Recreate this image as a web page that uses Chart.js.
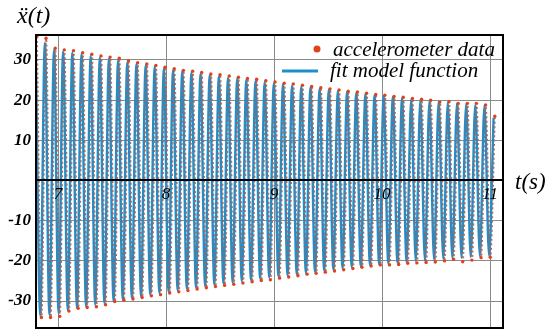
<!DOCTYPE html>
<html>
<head>
<meta charset="utf-8">
<script src="https://cdn.jsdelivr.net/npm/chart.js@4/dist/chart.umd.min.js"></script>
<style>
  html, body { margin: 0; padding: 0; background: #fff; }
</style>
</head>
<body>
<canvas id="chart" width="550" height="336"></canvas>
<script>
// times (s) of the turning points of the fit, peak / trough alternating
var fitT = [
  6.793, 6.835, 6.878, 6.920, 6.963, 7.005, 7.047, 7.090, 7.132, 7.175,
  7.217, 7.259, 7.302, 7.344, 7.387, 7.429, 7.471, 7.514, 7.556, 7.599,
  7.641, 7.683, 7.726, 7.768, 7.811, 7.853, 7.895, 7.938, 7.980, 8.023,
  8.065, 8.107, 8.150, 8.192, 8.235, 8.277, 8.319, 8.362, 8.404, 8.447,
  8.489, 8.531, 8.574, 8.616, 8.659, 8.701, 8.743, 8.786, 8.828, 8.871,
  8.913, 8.955, 8.998, 9.040, 9.083, 9.125, 9.167, 9.210, 9.252, 9.295,
  9.337, 9.379, 9.422, 9.464, 9.507, 9.549, 9.591, 9.634, 9.676, 9.719,
  9.761, 9.803, 9.846, 9.888, 9.931, 9.973, 10.015, 10.058, 10.100, 10.143,
  10.185, 10.227, 10.270, 10.312, 10.355, 10.397, 10.439, 10.482, 10.524, 10.567,
  10.609, 10.651, 10.694, 10.736, 10.779, 10.821, 10.863, 10.906, 10.948, 10.991,
  11.033
];
// turning points of the measured data (they sit a little to the right of the fit)
var dataT = [
  6.804, 6.846, 6.889, 6.931, 6.974, 7.016, 7.058, 7.101, 7.143, 7.186,
  7.228, 7.270, 7.313, 7.355, 7.398, 7.440, 7.482, 7.525, 7.567, 7.610,
  7.652, 7.694, 7.737, 7.779, 7.822, 7.864, 7.906, 7.949, 7.991, 8.034,
  8.076, 8.118, 8.161, 8.203, 8.246, 8.288, 8.330, 8.373, 8.415, 8.458,
  8.500, 8.542, 8.585, 8.627, 8.670, 8.712, 8.754, 8.797, 8.839, 8.882,
  8.924, 8.966, 9.009, 9.051, 9.094, 9.136, 9.178, 9.221, 9.263, 9.306,
  9.348, 9.390, 9.433, 9.475, 9.518, 9.560, 9.602, 9.645, 9.687, 9.730,
  9.772, 9.814, 9.857, 9.899, 9.942, 9.984, 10.026, 10.069, 10.111, 10.154,
  10.196, 10.238, 10.281, 10.323, 10.366, 10.408, 10.450, 10.493, 10.535, 10.578,
  10.620, 10.662, 10.705, 10.747, 10.790, 10.832, 10.874, 10.917, 10.959, 11.002,
  11.044
];

// accelerometer data: values at the peaks and at the troughs
var dataPeaks = [
  35.8, 35.4, 32.9, 32.5, 32.3, 31.8, 31.4, 31.0, 30.7, 30.4,
  29.8, 29.3, 29.0, 28.6, 28.2, 27.8, 27.4, 27.2, 26.9, 26.5,
  26.3, 26.0, 25.7, 25.4, 25.2, 24.8, 24.5, 24.2, 24.0, 23.7,
  23.4, 23.1, 22.8, 22.5, 22.2, 22.0, 21.7, 21.4, 21.2, 20.9,
  20.7, 20.4, 20.2, 20.0, 19.5, 19.6, 19.2, 19.2, 19.2, 18.8,
  16.0
];
var dataTroughs = [
  -34.1, -34.1, -33.8, -32.5, -31.8, -31.6, -31.4, -30.9, -30.1, -29.8,
  -29.5, -29.1, -28.7, -28.4, -28.0, -27.7, -27.4, -27.0, -26.7, -26.4,
  -26.1, -25.8, -25.5, -25.2, -24.9, -24.7, -24.3, -24.0, -23.7, -23.3,
  -23.1, -22.8, -22.5, -22.2, -21.9, -21.6, -21.3, -21.0, -21.0, -20.9,
  -20.6, -20.5, -20.4, -20.3, -20.0, -19.6, -20.2, -19.8, -19.2, -19.1
];

// fit model function: values at its turning points
var fitPeaks = [
  34.8, 34.2, 32.5, 32.1, 31.8, 31.4, 31.0, 30.6, 30.3, 29.9,
  29.4, 29.0, 28.6, 28.3, 27.9, 27.5, 27.2, 26.8, 26.5, 26.2,
  25.9, 25.6, 25.3, 25.0, 24.7, 24.4, 24.1, 23.9, 23.6, 23.3,
  23.1, 22.8, 22.5, 22.2, 22.0, 21.7, 21.5, 21.2, 21.0, 20.7,
  20.4, 20.2, 20.0, 19.8, 19.6, 19.4, 19.2, 19.0, 18.8, 18.6,
  15.6
];
var fitTroughs = [
  -33.6, -33.4, -33.0, -32.3, -31.7, -31.3, -30.9, -30.5, -30.0, -29.6,
  -29.2, -28.8, -28.4, -28.0, -27.6, -27.3, -26.9, -26.6, -26.3, -25.9,
  -25.6, -25.3, -25.0, -24.7, -24.4, -24.1, -23.8, -23.6, -23.3, -23.0,
  -22.7, -22.4, -22.1, -21.8, -21.5, -21.3, -21.0, -20.8, -20.6, -20.4,
  -20.2, -20.0, -19.9, -19.7, -19.5, -19.3, -19.2, -19.0, -18.8, -18.7
];

var xTicks = [7, 8, 9, 10, 11];
var yTicks = [-30, -20, -10, 0, 10, 20, 30];
var seriesNames = ['accelerometer data', 'fit model function'];

var SERIF = "'Liberation Serif', 'DejaVu Serif', serif";
var RED = '#e0421c';
var BLUE = '#1f8fcc';

function turningPoints(times, peaks, troughs) {
  var pts = [];
  for (var k = 0; k < times.length; k++) {
    var v = (k % 2 === 0) ? peaks[k / 2] : troughs[(k - 1) / 2];
    pts.push({x: times[k], y: v});
  }
  return pts;
}

// frame round the plot, legend inside it, axis names
var decorations = {
  id: 'decorations',
  afterDatasetsDraw: function(chart) {
    var a = chart.chartArea, ctx = chart.ctx;
    ctx.save();
    ctx.strokeStyle = '#000';
    ctx.lineWidth = 2;
    ctx.strokeRect(a.left, a.top, a.right - a.left, a.bottom - a.top);
    ctx.restore();
  },
  afterDraw: function(chart) {
    var ctx = chart.ctx;
    ctx.save();
    ctx.fillStyle = '#000';
    ctx.textBaseline = 'alphabetic';

    ctx.font = 'italic 24px ' + SERIF;
    ctx.fillText('\u1E8D(t)', 17, 23);
    ctx.font = 'italic 23px ' + SERIF;
    ctx.fillText('t(s)', 515, 189);

    // legend
    ctx.fillStyle = RED;
    ctx.beginPath();
    ctx.arc(317, 49, 3.5, 0, Math.PI * 2);
    ctx.fill();
    ctx.strokeStyle = BLUE;
    ctx.lineWidth = 3;
    ctx.beginPath();
    ctx.moveTo(282, 71);
    ctx.lineTo(318, 71);
    ctx.stroke();

    ctx.font = 'italic 21px ' + SERIF;
    ctx.fillStyle = '#000';
    ctx.fillText(chart.data.datasets[0].label, 333, 56);
    ctx.fillText(chart.data.datasets[1].label, 330, 77);
    ctx.restore();
  }
};

new Chart(document.getElementById('chart'), {
  type: 'line',
  data: {
    datasets: [
      {
        label: seriesNames[0],
        data: turningPoints(dataT, dataPeaks, dataTroughs),
        borderColor: 'rgba(160,100,92,0.9)',
        borderWidth: 2,
        borderDash: [2, 2.5],
        pointRadius: 1.7,
        pointBackgroundColor: RED,
        pointBorderWidth: 0,
        cubicInterpolationMode: 'monotone',
        order: 0
      },
      {
        label: seriesNames[1],
        data: turningPoints(fitT, fitPeaks, fitTroughs),
        borderColor: BLUE,
        borderWidth: 2.4,
        pointRadius: 0,
        cubicInterpolationMode: 'monotone',
        order: 1
      }
    ]
  },
  options: {
    responsive: false,
    animation: false,
    devicePixelRatio: 1,
    layout: { padding: { top: 35, right: 47, bottom: 8, left: 0 } },
    plugins: {
      legend: { display: false },
      tooltip: { enabled: false }
    },
    scales: {
      x: {
        type: 'linear',
        min: 6.796,
        max: 11.12,
        position: { y: 0 },
        afterBuildTicks: function(s) { s.ticks = xTicks.map(function(v) { return {value: v}; }); },
        afterFit: function(s) { s.height = 0; s.paddingLeft = 0; s.paddingRight = 0; },
        grid: { color: '#8a8a8a', lineWidth: 1, drawTicks: false },
        border: { color: '#000', width: 2, z: 1 },
        ticks: {
          z: 1,
          color: '#000',
          padding: 4,
          maxRotation: 0,
          font: { family: SERIF, style: 'italic', size: 17 },
          callback: function(v) { return String(v); }
        }
      },
      y: {
        type: 'linear',
        min: -36.7,
        max: 36.2,
        afterBuildTicks: function(s) { s.ticks = yTicks.map(function(v) { return {value: v}; }); },
        afterFit: function(s) { s.width = 36; s.paddingTop = 0; s.paddingBottom = 0; },
        grid: {
          color: function(c) { return c.tick && c.tick.value === 0 ? 'rgba(0,0,0,0)' : '#8a8a8a'; },
          lineWidth: 1,
          drawTicks: false
        },
        border: { color: '#000', width: 2 },
        ticks: {
          color: '#000',
          padding: 5,
          font: { family: SERIF, style: 'italic', weight: 'bold', size: 17 },
          callback: function(v) { return v === 0 ? '' : String(v); }
        }
      }
    }
  },
  plugins: [decorations]
});
</script>
</body>
</html>
